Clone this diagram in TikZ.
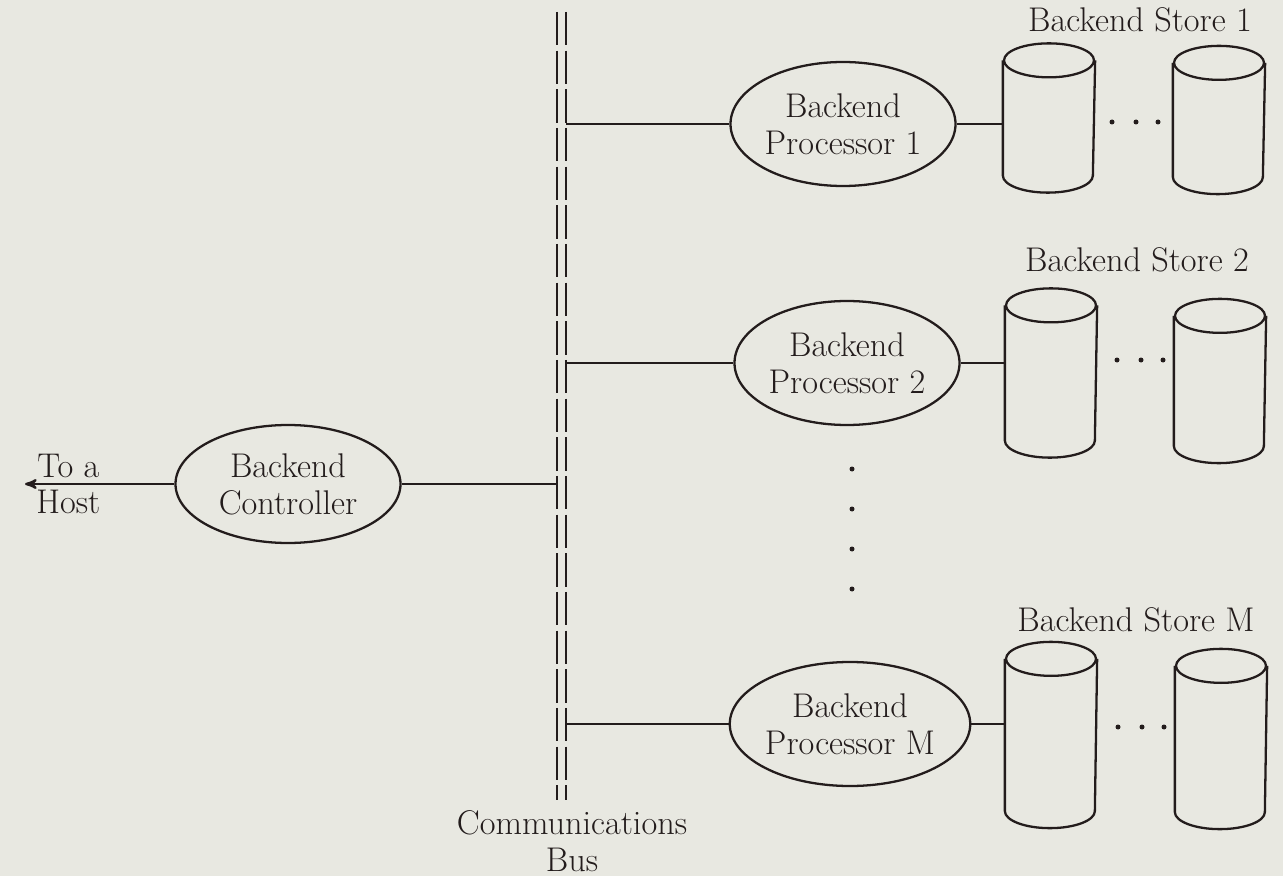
\documentclass[tikz,border=0pt]{standalone}
\usepackage{fontspec}
\usepackage{tikz}
\usetikzlibrary{shapes,arrows}
\usetikzlibrary{positioning}
\definecolor{paper}{RGB}{232,232,225}
\definecolor{ink}{RGB}{35,28,28}
\newcommand{\figfont}{\fontsize{19.5}{21}\selectfont\addfontfeature{LetterSpace=3}}
\tikzset{
    proc/.style={
           ellipse,
           draw=ink, line width=1.3pt,
           minimum height=2.48cm,
           minimum width=4.5cm,
           inner sep=0pt,
           align=center,
           font=\figfont
           },
    store/.style={
           rectangle,
           minimum width=1.8cm,
           inner sep=0pt
           },
    lbl/.style={
           inner sep=3pt,
           align=center,
           font=\figfont
           },
    bus/.style={
           line width=1.2pt,
           dash pattern=on 19pt off 3pt
           }
}
\begin{document}
\begin{tikzpicture}[x=0.2mm, y=-0.2mm, >=stealth', color=ink, line width=1.3pt]
   \fill[paper] (0,0) rectangle (1283,876);
   \useasboundingbox (0,0) rectangle (1283,876);
   % communications bus
   \coordinate (busLt) at (557,12);
   \coordinate (busLb) at (557,800);
   \coordinate (busRt) at (566,12);
   \coordinate (busRb) at (566,800);
   \draw[bus] (busLt) -- (busLb);
   \draw[bus] (busRt) -- (busRb);
   \node[lbl] (busname) at (572,841) {Communications\\Bus};
   % controller and processors
   \node[proc, minimum height=2.36cm] (ctrl) at (288,484) {Backend\\Controller};
   \node[proc] (p1) at (843,124) {Backend\\Processor 1};
   \node[proc] (p2) at (847,363) {Backend\\Processor 2};
   \node[proc] (pm) at (850,724) {Backend\\Processor M};
   \coordinate (host) at (25,484);
   % stores (body between the cap centres)
   \node[store, minimum height=2.26cm] (s1a) at (1049,118) {};
   \node[store, minimum height=2.24cm] (s1b) at (1219,120) {};
   \node[store, minimum height=2.66cm] (s2a) at (1051,373) {};
   \node[store, minimum height=2.56cm] (s2b) at (1220,381) {};
   \node[store, minimum height=3.00cm] (sma) at (1051,735) {};
   \node[store, minimum height=2.88cm] (smb) at (1221,739) {};
   \foreach \n in {s1a,s1b,s2a,s2b,sma,smb} {
     \draw (\n.north) ellipse [x radius=0.9cm, y radius=0.34cm];
     \draw (\n.north west) -- (\n.south west)
       arc [start angle=180, end angle=360, x radius=0.9cm, y radius=0.34cm]
       -- (\n.north east);
   }
   \node[lbl] (s1name) at (1140,20) {Backend Store 1};
   \node[lbl] (s2name) at (1137,260) {Backend Store 2};
   \node[lbl] (smname) at (1136,620) {Backend Store M};
   \path[->]
    (ctrl) edge node[lbl, above, pos=0.71] {To a} node[lbl, below, pos=0.71] {Host} (host);
   \path
    (ctrl) edge (ctrl -| busLt)
    (p1.west -| busRt) edge (p1.west)
    (p2.west -| busRt) edge (p2.west)
    (pm.west -| busRt) edge (pm.west)
    (p1) edge (p1.east -| s1a.west)
    (p2) edge (p2.east -| s2a.west)
    (pm) edge (pm.east -| sma.west);
   % dots
   \foreach \y in {469,509,549,589}
     \fill (852,\y) circle (2.5);
   \foreach \y/\xo in {122/1112, 360/1117, 727/1118}
     \foreach \d in {0,24,46}
       \fill (\xo+\d,\y) circle (2.5);
\end{tikzpicture}
\end{document}
